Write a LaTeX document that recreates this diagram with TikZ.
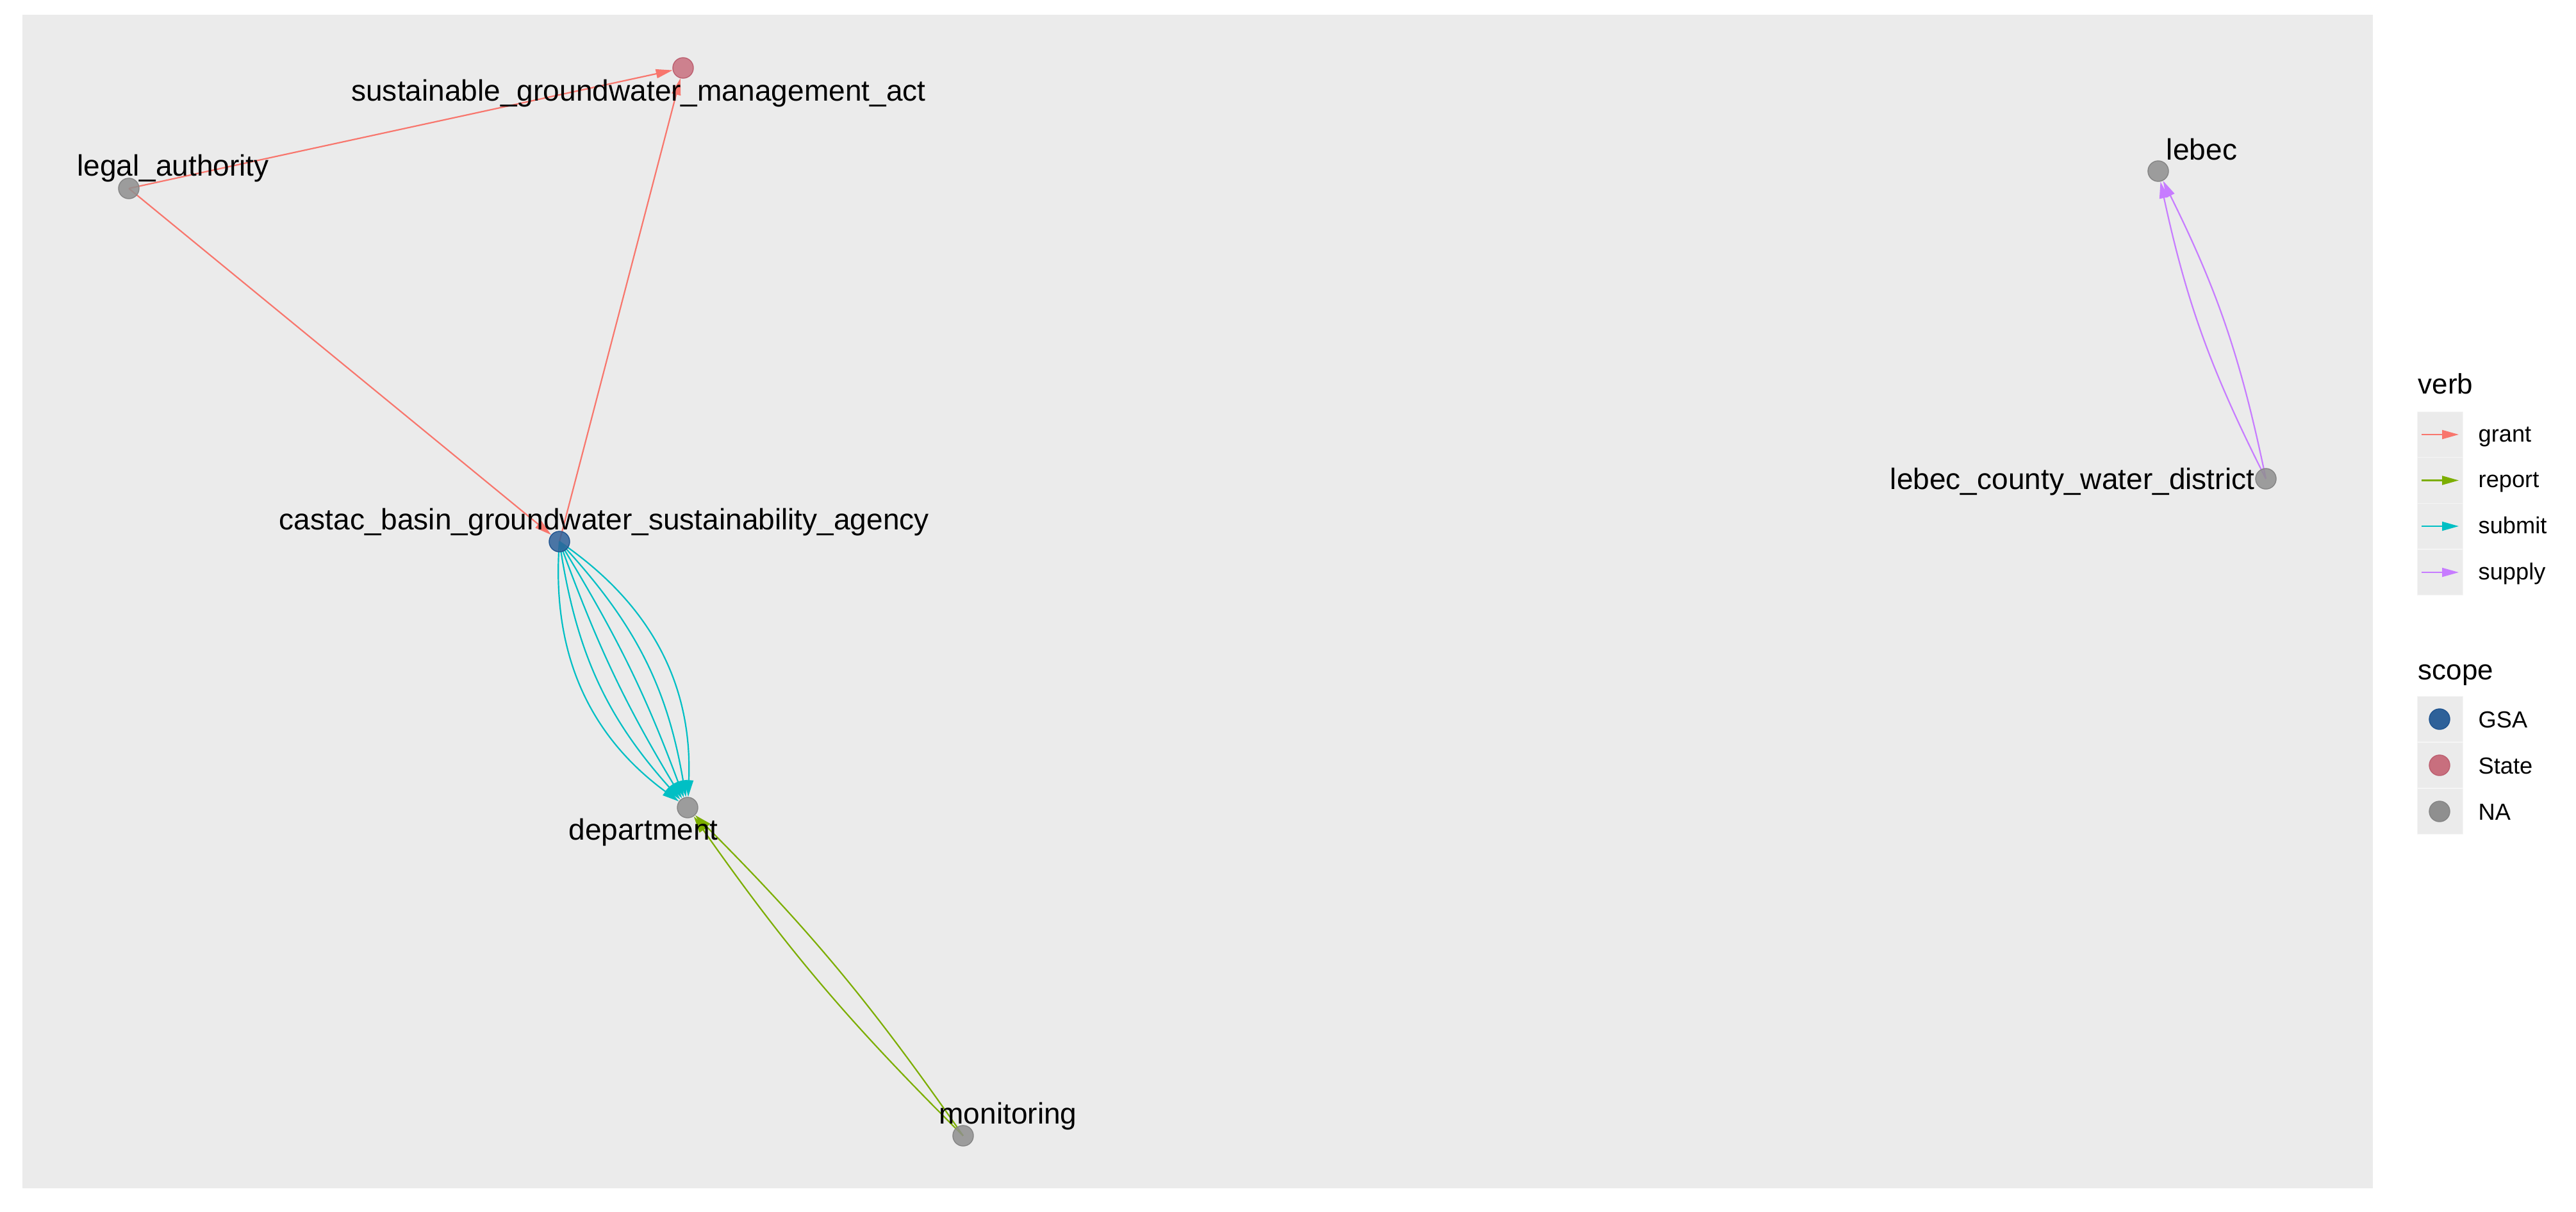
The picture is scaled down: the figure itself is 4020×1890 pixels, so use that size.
\documentclass[tikz,border=0pt]{standalone}
\usepackage{fontspec}
\setmainfont{Liberation Sans}
\usetikzlibrary{arrows.meta}
\definecolor{panelgray}{HTML}{EBEBEB}
\definecolor{grantc}{HTML}{F8766D}
\definecolor{reportc}{HTML}{7CAE00}
\definecolor{submitc}{HTML}{00BFC4}
\definecolor{supplyc}{HTML}{C77CFF}
\definecolor{gsafill}{HTML}{2E6199}
\definecolor{gsadraw}{HTML}{1F5490}
\definecolor{statefill}{HTML}{C86F7E}
\definecolor{statedraw}{HTML}{BC5F70}
\definecolor{nafill}{HTML}{8F8F8F}
\definecolor{nadraw}{HTML}{858585}
\begin{document}
\begin{tikzpicture}[x=0.01cm,y=-0.01cm,
  vtx/.style={circle,minimum size=0.32cm,inner sep=0pt,line width=0.4pt},
  gsanode/.style={vtx,fill=gsafill,draw=gsadraw},
  statenode/.style={vtx,fill=statefill,draw=statedraw},
  nanode/.style={vtx,fill=nafill,draw=nadraw},
  edgebase/.style={line width=0.62pt,-{Triangle[length=0.26cm,width=0.14cm]}},
  grantedge/.style={edgebase,draw=grantc},
  reportedge/.style={edgebase,draw=reportc},
  submitedge/.style={edgebase,draw=submitc},
  supplyedge/.style={edgebase,draw=supplyc},
  lbl/.style={font=\fontsize{13.1}{15}\selectfont,anchor=base,inner sep=0pt},
  legtitle/.style={font=\fontsize{12.5}{14}\selectfont,anchor=base west,inner sep=0pt},
  legtext/.style={font=\fontsize{10.3}{12}\selectfont,anchor=base west,inner sep=0pt},
  legcell/.style={fill=panelgray,draw=white!50!panelgray,line width=0.3pt}
]
\useasboundingbox (0,0) rectangle (4020,1890);
\fill[white] (0,0) rectangle (4020,1890);
\fill[panelgray] (35,23) rectangle (3703,1854);

% vertex shapes (invisible, used as edge ends)
\node[vtx] (sgma) at (1066,106) {};
\node[vtx] (legal) at (201,294) {};
\node[vtx] (castac) at (873,845) {};
\node[vtx] (dept) at (1073,1260) {};
\node[vtx] (mon) at (1503,1772) {};
\node[vtx] (lebec) at (3368,267) {};
\node[vtx] (lcwd) at (3536,747) {};

% edges
\draw[grantedge] (legal.center) -- (sgma);
\draw[grantedge] (legal.center) -- (castac);
\draw[grantedge] (castac.center) -- (sgma);
\draw[submitedge] (castac.center) to[bend left=29] (dept);
\draw[submitedge] (castac.center) to[bend left=16.7] (dept);
\draw[submitedge] (castac.center) to[bend left=5.5] (dept);
\draw[submitedge] (castac.center) to[bend right=5.5] (dept);
\draw[submitedge] (castac.center) to[bend right=16.7] (dept);
\draw[submitedge] (castac.center) to[bend right=29] (dept);
\draw[reportedge] (mon.center) to[bend left=5] (dept);
\draw[reportedge] (mon.center) to[bend right=5] (dept);
\draw[supplyedge] (lcwd.center) to[bend left=7.3] (lebec);
\draw[supplyedge] (lcwd.center) to[bend right=7.3] (lebec);

% visible vertices, semi-transparent over the edges
\node[statenode,fill opacity=0.85] (vsgma) at (sgma) {};
\node[nanode,fill opacity=0.85] (vlegal) at (legal) {};
\node[gsanode,fill opacity=0.85] (vcastac) at (castac) {};
\node[nanode,fill opacity=0.85] (vdept) at (dept) {};
\node[nanode,fill opacity=0.85] (vmon) at (mon) {};
\node[nanode,fill opacity=0.85] (vlebec) at (lebec) {};
\node[nanode,fill opacity=0.85] (vlcwd) at (lcwd) {};

% labels
\node[lbl] (tsgma) at (996.5,157) {sustainable\_groundwater\_management\_act};
\node[lbl] (tlegal) at (270,274) {legal\_authority};
\node[lbl] (tcastac) at (943,826) {castac\_basin\_groundwater\_sustainability\_agency};
\node[lbl] (tdept) at (1004,1310) {department};
\node[lbl] (tmon) at (1573,1753) {monitoring};
\node[lbl] (tlebec) at (3436,249) {lebec};
\node[lbl] (tlcwd) at (3234,763) {lebec\_county\_water\_district};

% legend: verb
\node[legtitle] (tverb) at (3773,614) {verb};
\foreach \yy/\cc/\nm [count=\i] in {678/grantc/grant,749.5/reportc/report,821/submitc/submit,893/supplyc/supply}{
  \draw[legcell] (3772,\yy-35.75) rectangle (3843,\yy+35.75);
  \coordinate (va\i) at (3779,\yy);
  \coordinate (vb\i) at (3837,\yy);
  \draw[edgebase,draw=\cc] (va\i) -- (vb\i);
  \node[legtext] (vl\i) at (3867,\yy+11) {\nm};
}
% legend: scope
\node[legtitle] (tscope) at (3773,1060) {scope};
\foreach \yy/\st/\nm [count=\i] in {1122/gsanode/GSA,1194/statenode/State,1266/nanode/NA}{
  \draw[legcell] (3772,\yy-35.7) rectangle (3843,\yy+35.7);
  \node[\st] (sk\i) at (3807,\yy) {};
  \node[legtext] (sl\i) at (3867,\yy+13) {\nm};
}
\end{tikzpicture}
\end{document}
